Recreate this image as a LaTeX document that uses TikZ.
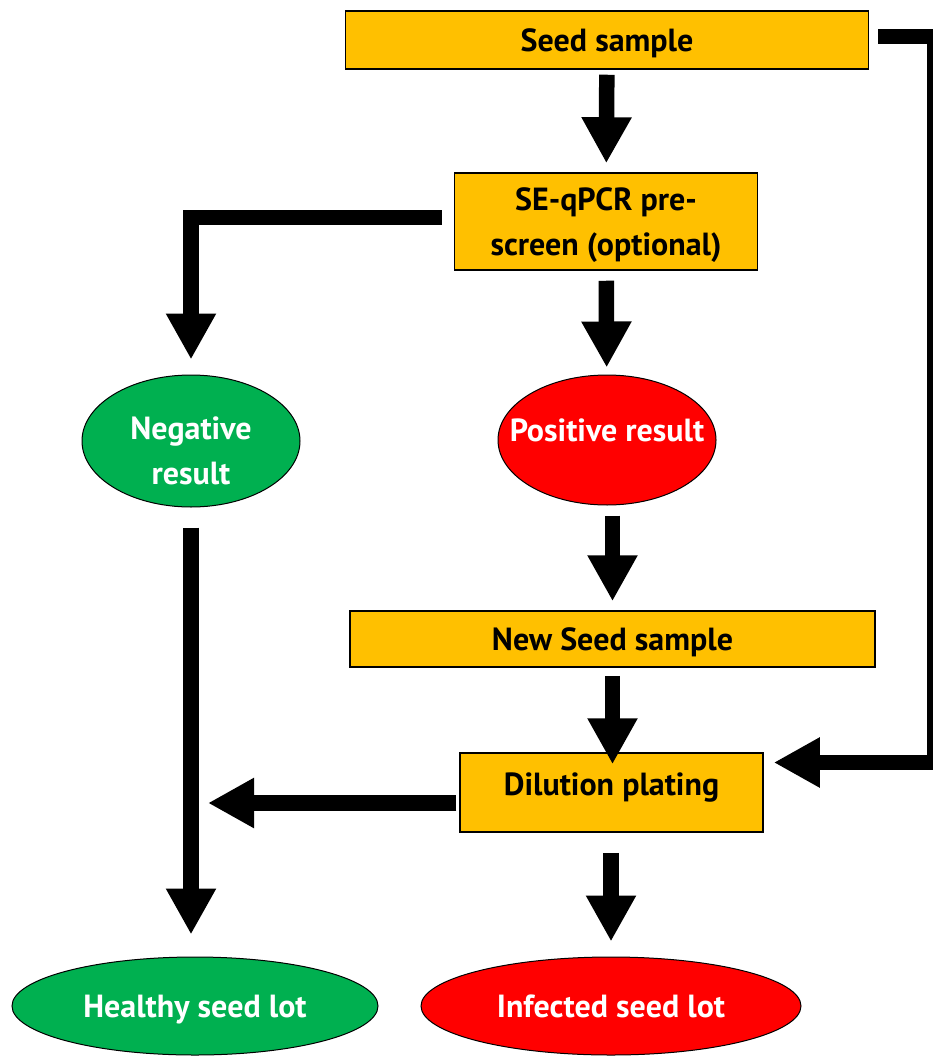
\documentclass[tikz,border=0pt]{standalone}
\usepackage{fontspec}
\setmainfont{PT Sans}
\usetikzlibrary{arrows.meta, shapes.geometric, calc}
\definecolor{seedgold}{HTML}{FFC000}
\definecolor{passgreen}{HTML}{00B050}
\definecolor{failred}{HTML}{FF0000}

\begin{document}
\begin{tikzpicture}[x=1pt, y=-1pt,
    stepbox/.style={draw=black, line width=1.5pt, fill=seedgold, align=center, inner sep=0pt, text depth=0pt, font=\fontsize{32}{45}\selectfont\bfseries},
    verdict/.style={ellipse, draw=black, line width=1pt, text=white, align=center, inner sep=0pt, text depth=0pt, font=\fontsize{32}{45}\selectfont\bfseries},
    bigarrow/.style={line width=15.5pt, -{Triangle[length=46pt, width=47pt]}}]
      \useasboundingbox (0,0) rectangle (932,1056);

      % Kaesten
      \node[stepbox, minimum width=523pt, minimum height=58pt] (seed) at (607, 40) {Seed sample};
      \node[stepbox, minimum width=303pt, minimum height=97pt] (prescreen) at (606, 221.5) {SE-qPCR pre-\\screen (optional)};
      \node[stepbox, minimum width=525pt, minimum height=56pt] (newseed) at (612.5, 639) {New Seed sample};
      \node[stepbox, minimum width=303pt, minimum height=79pt, text depth=16pt] (dilution) at (611.5, 792.5) {Dilution plating};

      % Ergebnisse
      \node[verdict, fill=passgreen, minimum width=218pt, minimum height=132pt, text height=86pt] (neg) at (191, 441) {Negative\\result};
      \node[verdict, fill=failred, minimum width=218pt, minimum height=130pt, text depth=20pt, inner xsep=-36pt] (pos) at (607, 440) {Positive result};
      \node[verdict, fill=passgreen, minimum width=366pt, minimum height=98pt] (healthy) at (195, 1006) {Healthy seed lot};
      \node[verdict, fill=failred, minimum width=380pt, minimum height=98pt] (infected) at (611, 1006) {Infected seed lot};

      \coordinate (loop) at (934.5, 0);
      \coordinate (back) at (208, 803);

      % Pfeile
      \draw[bigarrow, shorten <=5pt, shorten >=9pt] (seed) -- (prescreen);
      \draw[bigarrow, shorten <=10pt, shorten >=7pt] (prescreen) -- (pos);
      \draw[bigarrow, shorten <=12pt, shorten >=15pt] ([yshift=4pt]prescreen.west) -| (neg.north);
      \draw[bigarrow, shorten <=10pt, shorten >=9pt] (newseed.north |- pos.south) -- (newseed.north);
      \draw[bigarrow, shorten <=8pt, shorten >=-12pt] (newseed) -- (newseed.south |- dilution.north);
      \draw[bigarrow, shorten <=9pt, shorten >=10pt] ([yshift=3.5pt]seed.east) -- ([yshift=3.5pt]seed.east -| loop) |- ([yshift=30pt]dilution.east);
      \draw[bigarrow, shorten <=3pt] ([yshift=-10.5pt]dilution.west) -- (back);
      \draw[bigarrow, shorten <=20pt, shorten >=22pt] (neg) -- (neg |- healthy.north);
      \draw[bigarrow, shorten <=20pt, shorten >=15pt] (dilution.south -| infected.north) -- (infected.north);
\end{tikzpicture}
\end{document}
